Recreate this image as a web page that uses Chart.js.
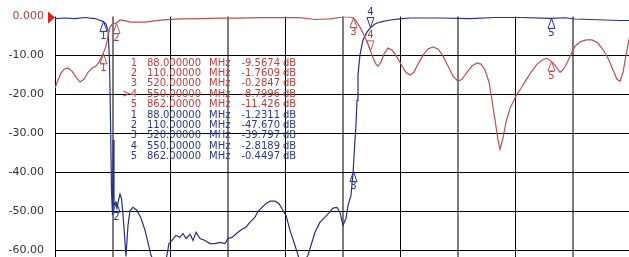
<!DOCTYPE html>
<html>
<head>
<meta charset="utf-8">
<script src="https://cdn.jsdelivr.net/npm/chart.js@4"></script>
<style>
  html, body { margin: 0; padding: 0; background: #fff; overflow: hidden; }
  canvas { display: block; }
</style>
</head>
<body>
<canvas id="vna" width="640" height="258"></canvas>
<script>
// S11 (red) trace, MHz / dB
const s11Freq = [5, 10.2, 15.4, 20.5, 27.5, 34.4, 41.3, 48.2, 55.1, 62, 68.9, 75.8, 81, 88, 93.1, 96.6, 100, 105.2, 110, 117.3,
  127.6, 134.6, 160.5, 186.4, 220.9, 255.5, 290, 324.6, 359.1, 393.7, 428.2, 454.1, 480, 502.5, 512.9, 520, 524.9, 531.8,
  538.7, 543.9, 550, 554.3, 559.5, 562.9, 568.1, 573.3, 580.2, 587.1, 595.8, 604.4, 611.3, 618.2, 625.1, 632, 640.7, 649.3,
  657.9, 666.6, 675.2, 683.9, 692.5, 701.1, 708, 716.7, 725.3, 734, 740.9, 747.8, 754.7, 759.9, 765.1, 770.3, 773.7, 778.9,
  784.1, 791, 797.9, 803.1, 810, 818.6, 827.3, 837.6, 846.3, 854.9, 862, 867, 872.2, 877.4, 882.6, 889.5, 896.4, 903.3,
  911.9, 922.3, 932.6, 943, 953.4, 962, 968.9, 975.8, 981, 986.2, 991.4, 996.6, 1000];
const s11Db = [-18.4, -16.3, -14.5, -13.5, -13.2, -14.0, -15.5, -16.8, -16.1, -14.3, -13.2, -12.7, -11.7, -9.57, -7.6, -5.0, -2.7, -1.65, -1.76, -0.87,
  -1.1, -1.4, -1.4, -0.9, -0.6, -0.5, -0.4, -0.4, -0.25, -0.25, -0.25, -0.75, -0.6, -0.1, -0.1, -0.28, -1.1, -2.7,
  -4.7, -6.5, -8.8, -10.6, -12.2, -12.7, -11.7, -9.6, -8.1, -8.6, -10.4, -12.7, -14.3, -15.0, -14.3, -12.2, -9.9, -8.3,
  -7.8, -8.3, -10.1, -12.7, -15.3, -16.6, -16.1, -14.3, -12.7, -11.9, -12.2, -13.7, -16.8, -21.5, -26.6, -31.7, -34.1, -31.2,
  -27.1, -23.5, -21.5, -19.9, -18.4, -16.3, -14.3, -12.2, -11.2, -10.65, -11.43, -12.2, -13.2, -14.3, -13.7, -11.9, -9.6, -7.6,
  -6.5, -6.0, -6.0, -6.8, -8.9, -11.2, -13.7, -16.1, -16.6, -14.3, -9.9, -6.0, -3.4];

// S21 (blue) trace, MHz / dB
const s21Freq = [5, 22.3, 39.5, 56.8, 74.1, 81, 88, 93.1, 96.6, 99.1, 100.9, 102.6, 104.3, 105.5, 106.9, 110, 112.1, 114.7,
  117.3, 119.9, 122.5, 125.1, 127.6, 131.1, 134.6, 139.7, 146.6, 153.6, 160.5, 165.6, 170.8, 182.9, 195, 201.9, 207.1, 214,
  220.9, 226.1, 231.3, 238.2, 243.4, 248.6, 255.5, 264.1, 272.7, 281.4, 290, 298.7, 303.8, 310.7, 321.1, 328, 334.9, 341.8,
  350.5, 355.7, 362.6, 369.5, 376.4, 385, 391.9, 398.8, 404, 410.9, 419.6, 426.5, 433.4, 438.6, 442, 454.1, 462.8, 474.9,
  485.2, 492.1, 497.3, 502.5, 507.7, 511.1, 516.3, 520, 523.2, 524.9, 526.7, 528.4, 531.8, 537, 543.9, 550, 557.8, 566.4,
  583.7, 601, 618.2, 670, 722, 765, 808, 862, 886.2, 903.5, 929.4, 955.3, 981.2, 1000];
const s21Db = [-0.5, -0.36, -0.5, -0.23, -0.5, -0.87, -1.23, -1.9, -3.45, -11.2, -26.6, -44.6, -51.0, -31.7, -48.5, -47.67, -49.2, -47.2,
  -45.6, -46.7, -51.0, -56.2, -61.6, -53.6, -49.8, -49.0, -49.8, -51.8, -54.9, -58.0, -61.3, -65, -64, -58.3, -57.5, -56.2,
  -56.7, -55.7, -57.0, -55.9, -57.5, -55.4, -57.0, -57.5, -58.3, -58.3, -58.0, -58.3, -57.0, -56.7, -55.4, -54.6, -54.1, -52.8,
  -51.5, -50.0, -49.0, -48.0, -47.4, -47.4, -48.0, -49.8, -51.0, -54.9, -58.8, -62.1, -66, -62.1, -61.3, -55.4, -52.8, -51.0,
  -49.2, -49.0, -50.3, -53.6, -51.8, -48.5, -45.9, -39.8, -31.7, -27.9, -21.5, -15.0, -9.9, -6.0, -4.0, -2.82, -1.9, -1.4,
  -0.87, -0.6, -0.36, -0.36, -0.5, -0.23, -0.23, -0.45, -0.3, -0.62, -0.75, -0.87, -1.0, -1.0];

// markers
const markerFreq = [88, 110, 520, 550, 862];
const s11MarkerDb = [-9.5674, -1.7609, -0.2847, -8.7996, -11.426];
const s21MarkerDb = [-1.2311, -47.670, -39.797, -2.8189, -0.4497];
const activeMarker = 3;

// axes
const yTickValues = [-60, -50, -40, -30, -20, -10, 0];
const yTickLabels = ["-60.00", "-50.00", "-40.00", "-30.00", "-20.00", "-10.00", "0.000"];
const startMHz = 5, stopMHz = 1000, divisions = 10;

const RED = "#c0504d", RED_TXT = "#c23c3c";
const BLUE = "#262f88", BLUE_TXT = "#2a3890";
const traces = [
  { marks: s11MarkerDb, color: RED, text: RED_TXT },
  { marks: s21MarkerDb, color: BLUE, text: BLUE_TXT }
];

function fmtDb(v) {
  return Math.abs(v) < 1 ? v.toFixed(4) : v.toPrecision(5);
}

// triangles, marker numbers, readout table, reference pointer
const vnaPlugin = {
  id: "vna",
  afterDatasetsDraw(chart) {
    const ctx = chart.ctx;
    const xs = chart.scales.x, ys = chart.scales.y;
    ctx.save();
    ctx.font = "10px 'DejaVu Sans'";
    ctx.textBaseline = "middle";
    traces.forEach(tr => {
      markerFreq.forEach((f, i) => {
        const px = Math.round(xs.getPixelForValue(f)) + 0.5;
        const py = ys.getPixelForValue(tr.marks[i]);
        const d = i === activeMarker ? -1 : 1;
        ctx.strokeStyle = tr.color;
        ctx.lineWidth = 1;
        ctx.beginPath();
        ctx.moveTo(px, py);
        ctx.lineTo(px - 3.5, py + d * 10);
        ctx.lineTo(px + 3.5, py + d * 10);
        ctx.closePath();
        ctx.stroke();
        ctx.fillStyle = tr.text;
        ctx.textAlign = "center";
        ctx.fillText(String(i + 1), px, py + d * 15);
      });
    });

    // readout table
    let row = 0;
    traces.forEach((tr, t) => {
      markerFreq.forEach((f, i) => {
        const y = 63 + row * 10.4;
        ctx.fillStyle = tr.text;
        ctx.textAlign = "right";
        ctx.fillText((t === 0 && i === activeMarker ? ">" : "") + (i + 1), 137, y);
        ctx.textAlign = "left";
        ctx.fillText(f.toPrecision(8), 147, y);
        ctx.fillText("MHz", 209, y);
        ctx.textAlign = "right";
        ctx.fillText(fmtDb(tr.marks[i]), 280, y);
        ctx.textAlign = "left";
        ctx.fillText("dB", 283, y);
        row++;
      });
    });

    // reference level pointer
    const ry = ys.getPixelForValue(0);
    const rx = chart.chartArea.left;
    ctx.fillStyle = "#e01e1e";
    ctx.beginPath();
    ctx.moveTo(rx, ry + 1);
    ctx.lineTo(rx - 7, ry - 5);
    ctx.lineTo(rx - 7, ry + 7);
    ctx.closePath();
    ctx.fill();
    ctx.restore();
  }
};

const ctx = document.getElementById("vna").getContext("2d");
new Chart(ctx, {
  type: "line",
  data: {
    datasets: [
      { label: "S11", data: s11Freq.map((f, i) => ({ x: f, y: s11Db[i] })), borderColor: RED, borderWidth: 1.2, pointRadius: 0, tension: 0 },
      { label: "S21", data: s21Freq.map((f, i) => ({ x: f, y: s21Db[i] })), borderColor: BLUE, borderWidth: 1.2, pointRadius: 0, tension: 0 }
    ]
  },
  options: {
    responsive: false,
    animation: false,
    events: [],
    layout: { autoPadding: false, padding: { top: 16.6, right: 9, bottom: 0, left: 0 } },
    plugins: { legend: { display: false }, tooltip: { enabled: false } },
    scales: {
      x: {
        type: "linear",
        min: startMHz,
        max: stopMHz,
        afterBuildTicks: s => {
          s.ticks = [];
          for (let i = 0; i <= divisions; i++) s.ticks.push({ value: startMHz + i * (stopMHz - startMHz) / divisions });
        },
        afterFit: s => { s.height = 0; },
        ticks: { display: false },
        border: { display: false },
        grid: {
          drawTicks: false,
          color: c => (c.index % 2 ? "#7d7d7d" : "#000"),
          lineWidth: c => (c.index % 2 ? 2 : 1)
        }
      },
      y: {
        min: -62,
        max: 0,
        afterBuildTicks: s => { s.ticks = yTickValues.map(v => ({ value: v })); },
        // fixed axis width, and no label padding pushed into the plot area
        afterFit: s => { s.width = 55; s.paddingTop = 0; s.paddingBottom = 0; },
        border: { display: false },
        grid: {
          drawTicks: false,
          color: c => (c.tick && c.tick.value === 0 ? "rgba(0,0,0,0)" : "#000"),
          lineWidth: 1
        },
        ticks: {
          padding: 11,
          font: { family: "'DejaVu Sans'", size: 11 },
          color: c => (c.tick.value === 0 ? "#c03c3c" : "#333"),
          callback: v => yTickLabels[yTickValues.indexOf(v)]
        }
      }
    }
  },
  plugins: [vnaPlugin]
});
</script>
</body>
</html>
